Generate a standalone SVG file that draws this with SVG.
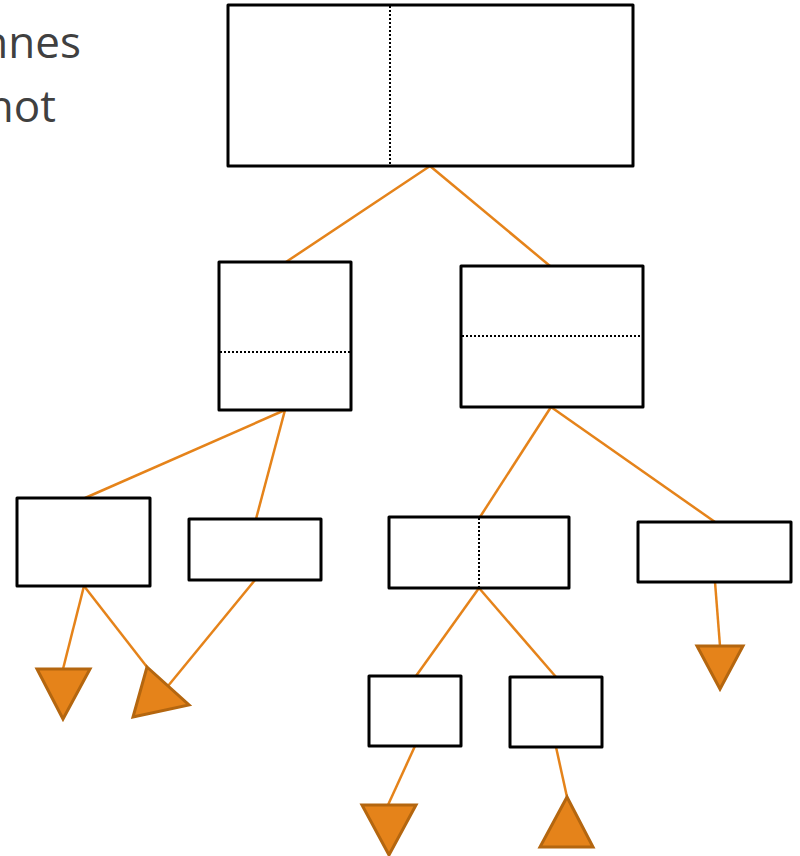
<svg xmlns="http://www.w3.org/2000/svg" width="800" height="856" viewBox="0 0 800 856">
<style>
.box{fill:#fff;stroke:#000;stroke-width:3;stroke-linejoin:round}
.dot{stroke:#000;stroke-width:2;stroke-dasharray:2 2;fill:none}
.con{stroke:#E5831A;stroke-width:2.5;fill:none}
.tri{fill:#E5831A;stroke:#B4660F;stroke-width:3;stroke-linejoin:miter}
.txt{font-family:"Open Sans","Noto Sans",sans-serif;font-size:44px;fill:#404040}
</style>
<rect width="800" height="856" fill="#fff"/>
<text class="txt" x="81" y="58" text-anchor="end">nnes</text>
<text class="txt" x="56" y="122" text-anchor="end">not</text>
<g id="connectors">
<line class="con" x1="430" y1="166" x2="286" y2="262"/>
<line class="con" x1="430" y1="166" x2="550" y2="266"/>
<line class="con" x1="285" y1="410" x2="85" y2="498"/>
<line class="con" x1="285" y1="410" x2="256" y2="519"/>
<line class="con" x1="551" y1="407" x2="480" y2="517"/>
<line class="con" x1="551" y1="407" x2="715" y2="522"/>
<line class="con" x1="84" y1="586" x2="63" y2="669"/>
<line class="con" x1="84" y1="586" x2="147" y2="667"/>
<line class="con" x1="255" y1="580" x2="168" y2="686"/>
<line class="con" x1="479" y1="588" x2="416" y2="676"/>
<line class="con" x1="479" y1="588" x2="556" y2="677"/>
<line class="con" x1="715" y1="582" x2="720" y2="646"/>
<line class="con" x1="415" y1="746" x2="388" y2="805"/>
<line class="con" x1="556" y1="747" x2="567" y2="797"/>
</g>
<g id="n-root">
<rect class="box" x="228" y="5" width="405" height="161"/>
<line class="dot" x1="390" y1="6" x2="390" y2="165"/>
</g>
<g id="n-left">
<rect class="box" x="219" y="262" width="132" height="148"/>
<line class="dot" x1="220" y1="352" x2="350" y2="352"/>
</g>
<g id="n-right">
<rect class="box" x="461" y="266" width="182" height="141"/>
<line class="dot" x1="462" y1="336" x2="642" y2="336"/>
</g>
<g id="n-a"><rect class="box" x="17" y="498" width="133" height="88"/></g>
<g id="n-b"><rect class="box" x="189" y="519" width="132" height="61"/></g>
<g id="n-c">
<rect class="box" x="389" y="517" width="180" height="71"/>
<line class="dot" x1="479" y1="518" x2="479" y2="587"/>
</g>
<g id="n-d"><rect class="box" x="638" y="522" width="153" height="60"/></g>
<g id="n-e"><rect class="box" x="369" y="676" width="92" height="70"/></g>
<g id="n-f"><rect class="box" x="510" y="677" width="92" height="70"/></g>
<g id="t1"><polygon class="tri" points="37,669 90,669 63,719"/></g>
<g id="t2"><polygon class="tri" points="147,667 189,705 133,717"/></g>
<g id="t3"><polygon class="tri" points="362,805 416,805 389,855"/></g>
<g id="t4"><polygon class="tri" points="567,797 593,847 540,847"/></g>
<g id="t5"><polygon class="tri" points="697,646 743,646 720,689"/></g>
</svg>
